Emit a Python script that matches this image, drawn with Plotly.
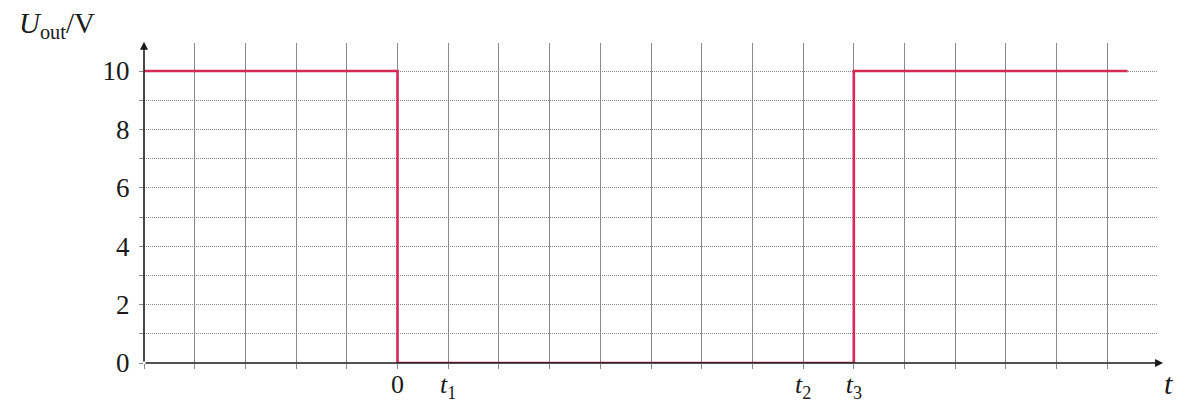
import plotly.graph_objects as go

# Data
t_vals = [-5, 0, 0, 9, 9, 14.4]
u_vals = [10, 10, 0, 0, 10, 10]
x_tick_vals = [0, 1, 8, 9]
x_tick_text = ["0", "<i>t</i><sub>1</sub>", "<i>t</i><sub>2</sub>", "<i>t</i><sub>3</sub>"]
y_tick_vals = [0, 2, 4, 6, 8, 10]

FONT = "Liberation Serif"
GRID = "#8a8a8a"
TXT = "#1a1a1a"

fig = go.Figure()
fig.add_trace(go.Scatter(x=t_vals, y=u_vals, mode="lines",
                         line=dict(color="#d42a55", width=2.6),
                         showlegend=False, hoverinfo="skip"))

fig.update_layout(
    width=1188, height=405,
    margin=dict(l=144, r=31, t=43, b=42, autoexpand=False),
    paper_bgcolor="white", plot_bgcolor="white",
    font=dict(family=FONT, size=27, color=TXT),
)
fig.update_xaxes(
    range=[-5, 14.98], tickvals=x_tick_vals, ticktext=x_tick_text,
    showgrid=True, gridcolor=GRID, gridwidth=1,
    ticks="outside", ticklen=5, tickcolor=GRID,
    minor=dict(dtick=1, tick0=0, showgrid=True, gridcolor=GRID, gridwidth=1,
               ticks="outside", ticklen=5, tickcolor=GRID),
    zeroline=False, showline=False, automargin=False,
    ticklabelstandoff=-7,
    tickfont=dict(family=FONT, size=26, color=TXT),
)
fig.update_yaxes(
    range=[0, 10.96], tickvals=y_tick_vals,
    showgrid=True, gridcolor=GRID, gridwidth=1, griddash="1px,1px",
    ticks="outside", ticklen=4, tickcolor=GRID,
    minor=dict(dtick=1, tick0=0, showgrid=True, gridcolor=GRID, gridwidth=1,
               griddash="1px,1px", ticks="outside", ticklen=4, tickcolor=GRID),
    zeroline=False, showline=False, automargin=False,
    ticklabelstandoff=4,
    tickfont=dict(family=FONT, size=27, color=TXT),
)

# Axis arrows
fig.add_annotation(x=15.1, y=0, ax=-5, ay=0, xref="x", yref="y", axref="x", ayref="y",
                   showarrow=True, arrowhead=2, arrowsize=1, arrowwidth=1.6,
                   arrowcolor=TXT, text="")
fig.add_annotation(x=-5, y=11.0, ax=-5, ay=0, xref="x", yref="y", axref="x", ayref="y",
                   showarrow=True, arrowhead=2, arrowsize=1, arrowwidth=1.6,
                   arrowcolor=TXT, text="")

# Axis labels
fig.add_annotation(x=-0.086, y=1.056, xref="paper", yref="paper", showarrow=False,
                   xanchor="center", yanchor="middle",
                   text="<i>U</i><sub>out</sub>/V",
                   font=dict(family=FONT, size=29, color=TXT))
fig.add_annotation(x=1.011, y=-0.0625, xref="paper", yref="paper", showarrow=False,
                   xanchor="center", yanchor="middle",
                   text="<i>t</i>",
                   font=dict(family=FONT, size=30, color=TXT))

fig.write_html("out.html")
